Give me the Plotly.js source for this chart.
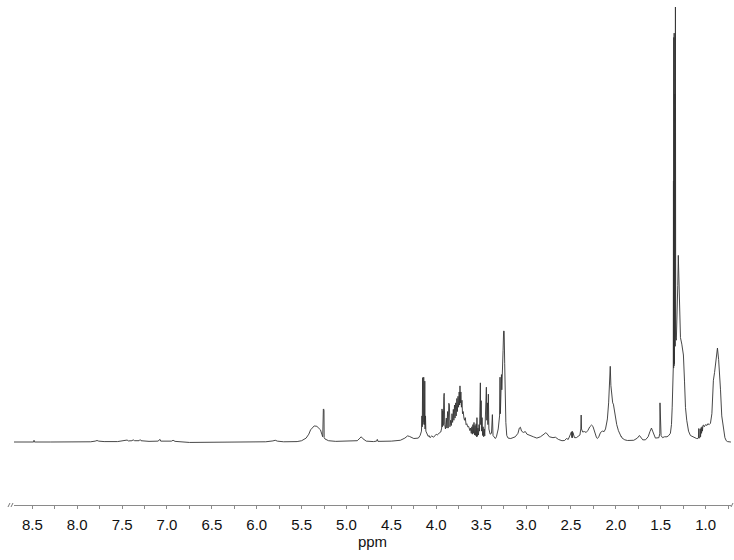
<!DOCTYPE html>
<html>
<head>
<meta charset="utf-8">
<script src="https://cdn.plot.ly/plotly-3.0.1.min.js"></script>
<style>
  body { margin: 0; background: #fff; }
  #myPlot { width: 734px; height: 560px; }
</style>
</head>
<body>
<div id="myPlot"></div>
<script>
// 1H NMR spectrum, chemical shift (ppm) vs relative intensity (%)

var ppmValues = [
  8.72, 8.60, 8.50, 8.485, 8.481, 8.477, 8.30, 8.10, 7.85, 7.80, 7.779, 7.76, 7.70, 7.55,
  7.46, 7.444, 7.43, 7.39, 7.377, 7.36, 7.31, 7.299, 7.29, 7.20, 7.10, 7.08, 7.077, 7.07,
  6.95, 6.932, 6.91, 6.75, 6.60, 6.20, 5.90, 5.82, 5.794, 5.77, 5.70, 5.55,
  5.50, 5.45, 5.42, 5.40, 5.38, 5.36, 5.33, 5.31, 5.29, 5.275, 5.265, 5.258, 5.255, 5.251,
  5.249, 5.24, 5.20, 5.12, 4.95, 4.88, 4.85, 4.836, 4.82, 4.78, 4.70, 4.665, 4.657, 4.65,
  4.50, 4.40, 4.35, 4.32, 4.30, 4.25, 4.20, 4.18, 4.165, 4.160, 4.156, 4.152, 4.149, 4.146,
  4.143, 4.140, 4.137, 4.134, 4.131, 4.128, 4.125, 4.120, 4.116, 4.105, 4.09, 4.08, 4.07, 4.05,
  4.03, 4.00, 3.99, 3.97,
  3.95, 3.94, 3.936, 3.932, 3.928, 3.922, 3.916, 3.912, 3.906, 3.898, 3.888, 3.882, 3.874, 3.868,
  3.860, 3.854, 3.848, 3.840, 3.832, 3.825, 3.818, 3.810, 3.804, 3.797, 3.791, 3.784, 3.778, 3.771,
  3.765, 3.758, 3.752, 3.745, 3.740, 3.736, 3.731, 3.726, 3.720, 3.714, 3.708, 3.700, 3.692, 3.685,
  3.677, 3.668, 3.66, 3.65, 3.64, 3.635, 3.625, 3.618, 3.61, 3.604, 3.598, 3.592, 3.586, 3.580,
  3.574, 3.568, 3.562, 3.556, 3.551, 3.547, 3.542, 3.536, 3.530, 3.524, 3.518, 3.514, 3.509, 3.505,
  3.500, 3.495, 3.490, 3.484, 3.478, 3.472, 3.466, 3.460, 3.452, 3.446, 3.442, 3.437, 3.431, 3.425,
  3.420, 3.414, 3.40, 3.385, 3.375, 3.368, 3.355, 3.342, 3.33, 3.31, 3.295, 3.290, 3.286, 3.282,
  3.278, 3.274, 3.270, 3.266, 3.262, 3.256, 3.250, 3.244, 3.238, 3.232, 3.225, 3.215, 3.20, 3.17,
  3.12, 3.09, 3.075, 3.063, 3.05, 3.03, 3.008, 2.99, 2.96, 2.918, 2.88, 2.84, 2.80, 2.785,
  2.77, 2.74, 2.70, 2.673, 2.64, 2.60, 2.57, 2.55, 2.53, 2.51, 2.495, 2.490, 2.486, 2.482,
  2.478, 2.47, 2.46, 2.44, 2.42, 2.40, 2.39, 2.386, 2.382, 2.37, 2.35, 2.33, 2.31, 2.29,
  2.27, 2.255, 2.235, 2.215, 2.205, 2.19, 2.17, 2.15, 2.13, 2.115, 2.10, 2.094, 2.08, 2.070,
  2.062, 2.055, 2.045, 2.035, 2.027, 2.01, 1.99, 1.971, 1.955, 1.94, 1.938, 1.93, 1.90, 1.87,
  1.80, 1.76, 1.737, 1.72, 1.70, 1.67, 1.64, 1.62, 1.603, 1.59, 1.57, 1.559, 1.52, 1.51,
  1.508, 1.504, 1.500, 1.496, 1.48, 1.458, 1.43, 1.41, 1.392, 1.38, 1.372, 1.365, 1.360, 1.358,
  1.356, 1.354, 1.352, 1.350, 1.348, 1.346, 1.344, 1.342, 1.339, 1.336, 1.333, 1.326, 1.318, 1.310,
  1.304, 1.298, 1.29, 1.28, 1.265, 1.247, 1.235, 1.224, 1.21, 1.202, 1.19, 1.169, 1.13, 1.10,
  1.085, 1.08, 1.076, 1.072, 1.068, 1.064, 1.060, 1.056, 1.050, 1.045, 1.040, 1.035, 1.030, 1.024,
  1.015, 1.00, 0.985, 0.975, 0.96, 0.946, 0.93, 0.913, 0.90, 0.885, 0.868, 0.855, 0.845, 0.834,
  0.82, 0.801, 0.785, 0.77, 0.756, 0.72, 0.68
];

var intensityValues = [
  0, 0, 0, 0, 0.4, 0, 0, 0, 0.05, 0.2, 0.35, 0.2, 0.1, 0.1,
  0.25, 0.45, 0.25, 0.3, 0.5, 0.3, 0.3, 0.55, 0.3, 0.15, 0.2, 0.5, 0.6, 0.2,
  0.2, 0.4, 0.15, -0.1, -0.05, 0, 0.05, 0.25, 0.4, 0.2, 0.05, 0.1,
  0.3, 0.9, 1.8, 2.8, 3.4, 3.7, 3.6, 3.3, 2.8, 1.8, 1.2, 7.5, 7.6, 7.3,
  1.0, 0.7, 0.3, 0.15, 0.15, 0.3, 0.9, 1.2, 0.8, 0.2, 0.1, 0.2, 0.6, 0.15,
  0.2, 0.4, 0.9, 1.4, 1.3, 0.8, 0.9, 1.5, 2.5, 6.0, 3.5, 14.8, 4.0, 14.5,
  4.5, 14.9, 4.0, 14.6, 4.0, 14.0, 3.0, 6.0, 2.5, 1.8, 1.3, 1.5, 1.0, 1.4,
  1.1, 1.8, 1.6, 2.0,
  2.3, 3.2, 7.6, 3.5, 7.2, 3.8, 10.5, 11.2, 4.0, 3.0, 5.5, 3.2, 7.0, 3.2,
  8.9, 8.5, 3.5, 5.0, 3.8, 6.5, 4.5, 7.5, 5.0, 8.5, 5.5, 9.0, 6.0, 10.0,
  7.0, 10.5, 8.0, 11.5, 8.5, 12.9, 9.0, 11.5, 8.0, 9.6, 6.5, 7.0, 5.5, 5.0,
  5.6, 4.0, 4.2, 3.5, 3.6, 3.0, 2.6, 3.2, 2.0, 3.5, 1.8, 4.0, 2.0, 4.5,
  1.6, 3.8, 1.5, 4.2, 1.2, 5.6, 1.3, 3.2, 1.6, 4.0, 2.5, 9.0, 13.6, 4.0,
  9.5, 2.5, 5.6, 1.5, 3.5, 1.2, 3.0, 1.4, 6.0, 11.0, 12.6, 5.0, 9.0, 4.0,
  11.0, 3.0, 1.8, 2.0, 6.3, 1.5, 1.0, 0.8, 1.2, 3.0, 6.0, 14.9, 6.5, 14.0,
  9.0, 15.5, 12.0, 18.0, 17.0, 21.0, 25.5, 25.5, 18.0, 10.0, 4.5, 1.5, 0.9, 0.8,
  1.2, 2.0, 3.2, 3.4, 2.5, 2.2, 2.4, 1.8, 1.5, 1.2, 0.9, 1.2, 1.8, 2.1,
  2.0, 1.2, 1.0, 1.1, 0.6, 0.3, 0.35, 0.8, 0.6, 1.5, 2.3, 1.0, 2.5, 1.0,
  2.2, 1.5, 1.0, 1.0, 1.3, 1.6, 3.0, 6.2, 3.0, 2.3, 2.4, 2.2, 2.7, 3.5,
  3.9, 3.6, 2.0, 1.0, 0.8, 1.2, 2.2, 2.5, 2.4, 3.0, 4.6, 5.3, 9.0, 14.0,
  17.4, 13.0, 10.0, 9.0, 8.7, 6.0, 4.0, 2.6, 1.6, 1.2, 1.3, 0.9, 0.5, 0.35,
  0.4, 0.9, 1.5, 1.0, 0.5, 0.5, 1.2, 2.4, 3.2, 2.5, 1.2, 0.9, 1.0, 2.0,
  9.0, 2.5, 8.8, 1.5, 1.0, 1.2, 1.2, 1.5, 2.0, 4.0, 8.0, 14.0, 17.0, 60.0,
  17.0, 93.0, 17.5, 94.0, 18.0, 94.0, 20.0, 80.0, 22.0, 100.0, 24.0, 23.4, 28.0, 36.0,
  42.9, 36.0, 27.0, 24.0, 22.5, 20.0, 14.0, 7.9, 5.0, 4.3, 2.5, 1.5, 1.0, 0.8,
  0.8, 0.9, 3.1, 0.9, 3.0, 1.0, 3.0, 1.2, 3.3, 2.0, 3.5, 2.5, 3.8, 3.9,
  3.5, 4.0, 3.8, 4.2, 4.0, 4.3, 6.5, 14.2, 16.0, 19.0, 21.6, 19.0, 16.5, 12.0,
  6.0, 2.8, 1.0, 0.3, 0.1, 0, 0
];

var xRange = [8.704, 0.717];
var yRange = [-14.48, 100.46];

var data = [{
  x: ppmValues,
  y: intensityValues,
  mode: "lines",
  line: {color: "#333333", width: 0.9},
  hoverinfo: "skip"
}];

// little "//" axis-break marks at both ends of the ppm axis
var breakLine = {color: "#777777", width: 1};

var layout = {
  width: 734,
  height: 560,
  margin: {l: 14, r: 3, t: 5, b: 55},
  paper_bgcolor: "#ffffff",
  plot_bgcolor: "#ffffff",
  showlegend: false,
  font: {family: "Liberation Sans, Arial, sans-serif", size: 15, color: "#111111"},
  xaxis: {
    range: xRange,
    showgrid: false,
    zeroline: false,
    showline: true,
    linecolor: "#8a8a8a",
    linewidth: 1.3,
    ticks: "outside",
    ticklen: 3,
    tickwidth: 1,
    tickcolor: "#8a8a8a",
    tick0: 0,
    dtick: 0.5,
    tickformat: ".1f",
    ticklabelstandoff: 3,
    minor: {dtick: 0.25, ticks: "outside", ticklen: 3, tickcolor: "#8a8a8a", showgrid: false},
    tickfont: {size: 15},
    title: {text: "ppm", font: {size: 15}, standoff: 2}
  },
  yaxis: {
    range: yRange,
    visible: false,
    showgrid: false,
    zeroline: false
  },
  shapes: [
    {type: "line", xref: "paper", yref: "paper", x0: -0.0084, y0: -0.004, x1: -0.0056, y1: 0.004, line: breakLine},
    {type: "line", xref: "paper", yref: "paper", x0: -0.0042, y0: -0.004, x1: -0.0014, y1: 0.004, line: breakLine},
    {type: "line", xref: "paper", yref: "paper", x0: 1.0, y0: -0.004, x1: 1.0028, y1: 0.004, line: breakLine}
  ]
};

Plotly.newPlot("myPlot", data, layout, {staticPlot: true, displayModeBar: false});
</script>
</body>
</html>
